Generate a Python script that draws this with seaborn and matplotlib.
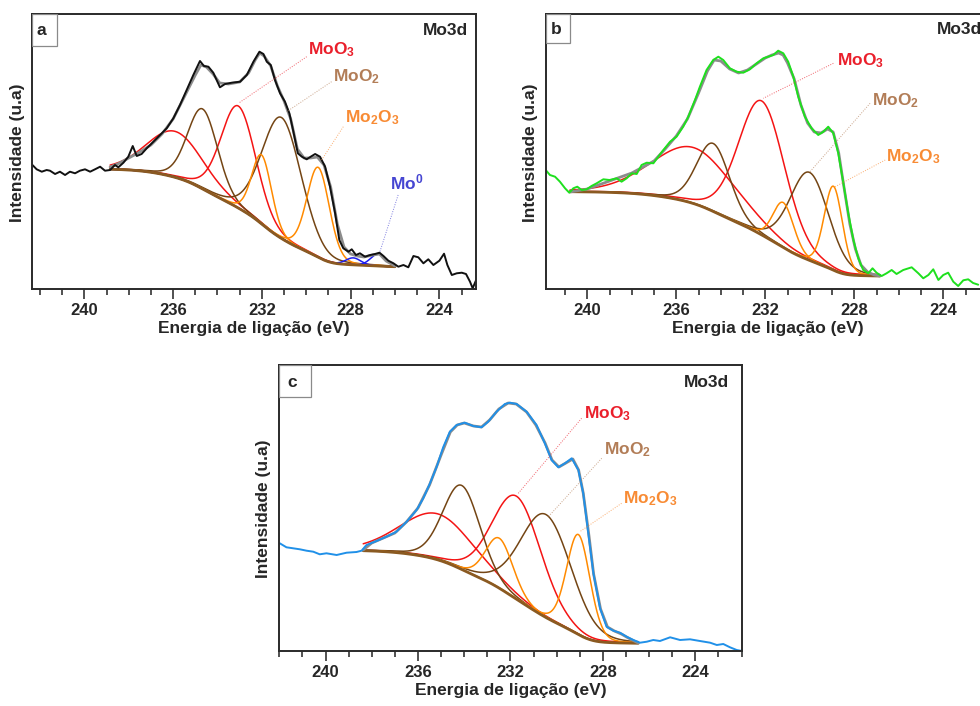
import numpy as np
import matplotlib
matplotlib.use("Agg")
import matplotlib.pyplot as plt
from matplotlib.patches import Rectangle
from matplotlib.ticker import MultipleLocator
import seaborn as sns

# ---------------------------------------------------------------- data
# (a) measured Mo3d spectrum
a_energy = [242.34, 242.15, 241.92, 241.70, 241.55, 241.32, 241.10, 240.87, 240.65, 240.42,
            240.20, 239.97, 239.74, 239.52, 239.29, 239.07, 238.84, 238.62, 238.47, 238.24,
            238.02, 237.82, 237.64, 237.42, 237.19, 236.89, 236.59, 236.29, 235.99, 235.69,
            235.39, 235.09, 234.79, 234.61, 234.41, 234.19, 233.89, 233.66, 233.36, 232.98,
            232.68, 232.38, 232.11, 231.93, 231.78, 231.60, 231.41, 231.18, 230.96, 230.76,
            230.58, 230.38, 230.20, 229.98, 229.80, 229.60, 229.38, 229.15, 228.93, 228.70,
            228.51, 228.33, 228.10, 227.95, 227.76, 227.58, 227.35, 227.12, 226.90, 226.70,
            226.52, 226.30, 226.07, 225.85, 225.62, 225.40, 225.17, 224.95, 224.72, 224.50,
            224.27, 224.00, 223.79, 223.64, 223.44, 223.22, 222.99, 222.80, 222.62, 222.50,
            222.35]
a_counts = [124, 119.7, 117.3, 119, 118.3, 115, 117.3, 114, 117.3, 115.7,
            118.3, 119.7, 117.3, 119.7, 122.3, 118.3, 119, 124, 121.7, 126.3,
            132.3, 143, 133, 135, 140.7, 147.3, 154, 160.7, 170.7, 184,
            199, 214, 228, 223, 222.3, 216.3, 201.7, 205, 206.3, 207.3,
            214, 227.3, 237.3, 235, 227.3, 224, 209, 195.7, 187.3, 175.7,
            157.3, 135.7, 132.3, 129.7, 132.3, 135, 132.3, 122.3, 102.3, 75.7,
            49, 40.7, 37.3, 39.7, 34, 35.7, 32.3, 34, 35, 36.3,
            33, 28.3, 25.7, 22.3, 24, 21.7, 33, 31.7, 25.7, 29.7,
            24, 28.3, 35.3, 24, 14, 15.7, 16.3, 15, 7.3, 0.7,
            8.7]
# (a) fitted envelope
a_fit_energy = [238.84, 238.5, 238.0, 237.5, 237.0, 236.5, 236.0, 235.5, 235.0, 234.75,
                234.5, 234.2, 233.9, 233.5, 233.0, 232.6, 232.3, 232.1, 231.9, 231.6,
                231.3, 231.0, 230.7, 230.4, 230.1, 229.8, 229.5, 229.2, 228.9, 228.6,
                228.3, 228.0, 227.7, 227.4, 227.0, 226.7, 226.4, 226.0]
a_fit_counts = [122, 125, 131, 137, 144, 155, 170, 192, 214, 224,
                222, 215, 206, 205, 207, 216, 229, 236, 233, 223,
                203, 188, 170, 140, 131, 131, 132, 124, 102, 65,
                42, 35, 33, 32, 34, 35, 28, 23]
# (a) background end points (binding energy) and levels
a_bg_energy = [238.84, 226.0]
a_bg_level = [119.7, 22.3]
# (a) fitted doublets: centre (eV), height, FWHM (eV)
a_moo3_center, a_moo3_height, a_moo3_fwhm = [235.91, 233.06], [46, 102], [3.0, 1.85]
a_moo2_center, a_moo2_height, a_moo2_fwhm = [234.67, 231.11], [80, 121], [1.6, 2.1]
a_mo2o3_center, a_mo2o3_height, a_mo2o3_fwhm = [232.01, 229.46], [69, 90], [1.05, 1.2]
a_mo0_center, a_mo0_height, a_mo0_fwhm = [227.88, 226.76], [7, 12], [0.8, 0.8]

# (b) measured Mo3d spectrum
b_energy = [241.87, 241.68, 241.45, 241.23, 241.00, 240.81, 240.63, 240.45, 240.25, 240.03,
            239.81, 239.58, 239.28, 239.00, 238.68, 238.46, 238.23, 238.00, 237.78, 237.56,
            237.33, 237.03, 236.81, 236.58, 236.28, 235.99, 235.69, 235.46, 235.16, 234.94,
            234.64, 234.34, 234.11, 233.89, 233.59, 233.29, 232.99, 232.69, 232.39, 232.09,
            231.87, 231.64, 231.42, 231.19, 230.97, 230.74, 230.52, 230.22, 229.92, 229.62,
            229.39, 229.17, 228.94, 228.72, 228.49, 228.27, 228.04, 227.82, 227.60, 227.37,
            227.18, 227.00, 226.77, 226.55, 226.32, 226.10, 225.80, 225.42, 225.12, 224.90,
            224.67, 224.45, 224.22, 224.00, 223.78, 223.55, 223.33, 223.10, 222.88, 222.66,
            222.43]
b_counts = [119, 114, 112.3, 107.3, 100.7, 96.3, 100.7, 102.3, 99, 99.7,
            103, 105.7, 109.7, 109, 110.7, 107.3, 110.7, 115.7, 115, 124,
            126.3, 125.7, 132.3, 139, 147.3, 152.3, 162.3, 172.3, 189, 202.3,
            219, 229, 232.3, 229, 220.7, 217.3, 216.3, 219.7, 225.7, 230.7,
            232.3, 234, 238.3, 235.7, 227.3, 212.3, 192.3, 172.3, 160.7, 154,
            157.3, 162.3, 155.7, 135.7, 105.7, 75.7, 49, 30.7, 19, 15.7,
            20.7, 16.3, 13, 15.7, 19, 15, 19, 21.7, 15.7, 10.7,
            14, 19.7, 9, 14, 16.3, 7.3, 3, 8.7, 9.7, 6,
            4.3]
b_fit_energy = [240.78, 240.0, 239.5, 239.0, 238.5, 238.0, 237.5, 237.0, 236.5, 236.0,
                235.5, 235.0, 234.6, 234.3, 234.0, 233.6, 233.2, 232.8, 232.4, 232.0,
                231.7, 231.4, 231.2, 231.0, 230.7, 230.4, 230.1, 229.8, 229.5, 229.2,
                228.95, 228.7, 228.45, 228.2, 227.95, 227.7, 227.4, 227.1, 226.85]
b_fit_counts = [97, 100, 104, 108, 112, 116, 122, 128, 140, 153,
                170, 196, 218, 229, 228, 220, 216, 219, 225, 231,
                234, 236, 234, 226, 210, 184, 166, 157, 156, 160,
                157, 136, 100, 65, 40, 24, 17, 14, 13]
b_bg_energy = [240.78, 226.85]
b_bg_level = [97.3, 13]
b_moo3_center, b_moo3_height, b_moo3_fwhm = [235.2, 232.16], [56, 134], [4.4, 2.45]
b_moo2_center, b_moo2_height, b_moo2_fwhm = [234.34, 230.02], [68, 88], [1.75, 2.05]
b_mo2o3_center, b_mo2o3_height, b_mo2o3_fwhm = [231.19, 228.94], [45, 84], [1.1, 0.97]

# (c) measured Mo3d spectrum
c_energy = [241.98, 241.69, 241.40, 241.11, 240.82, 240.53, 240.25, 239.96, 239.52, 239.09,
            238.66, 238.44, 238.23, 237.79, 237.36, 236.93, 236.49, 236.06, 235.77, 235.48,
            235.19, 234.91, 234.62, 234.33, 233.97, 233.61, 233.25, 232.96, 232.60, 232.24,
            232.02, 231.73, 231.30, 230.87, 230.51, 230.22, 229.93, 229.64, 229.35, 229.06,
            228.85, 228.63, 228.41, 228.12, 227.84, 227.55, 227.26, 226.97, 226.68, 226.39,
            226.10, 225.82, 225.53, 225.09, 224.66, 224.23, 223.80, 223.36, 223.07, 222.79,
            222.50, 222.21, 221.98]
c_counts = [107.7, 103.7, 102.7, 101.7, 100.3, 99.3, 96.7, 97.7, 96, 98.3,
            99, 100.3, 106, 110, 114.3, 119.3, 129.3, 141, 152.7, 167.7,
            184.3, 203.7, 219.3, 226, 228.3, 225, 223.7, 229.3, 239.3, 247,
            248.3, 247, 239.3, 226, 207.7, 191, 183.7, 187.7, 192.7, 181,
            157.7, 117.7, 77.7, 42.7, 24.3, 20.3, 18.3, 14.3, 11, 8.3,
            9.3, 11, 10, 13.7, 11, 11.7, 10, 8.3, 6, 7,
            3.7, 1, 0]
c_fit_energy = [238.37, 238.0, 237.5, 237.0, 236.5, 236.0, 235.5, 235.0, 234.6, 234.3,
                234.0, 233.6, 233.25, 232.9, 232.5, 232.1, 231.75, 231.3, 230.9, 230.5,
                230.2, 229.9, 229.6, 229.3, 229.05, 228.85, 228.6, 228.4, 228.1, 227.8,
                227.5, 227.2, 226.9, 226.47]
c_fit_counts = [101, 108, 113, 118, 129, 143, 166, 196, 219, 226,
                228, 225, 224, 231, 242, 248, 247, 239, 226, 208,
                191, 184, 188, 192, 181, 158, 115, 77, 42, 24,
                20, 17, 13, 8]
c_bg_energy = [238.37, 226.47]
c_bg_level = [100.3, 7.7]
c_moo3_center, c_moo3_height, c_moo3_fwhm = [235.12, 231.73], [46, 103], [3.8, 2.5]
c_moo2_center, c_moo2_height, c_moo2_fwhm = [234.11, 230.46], [84, 103], [1.9, 2.6]
c_mo2o3_center, c_mo2o3_height, c_mo2o3_fwhm = [232.48, 229.06], [50, 100], [1.4, 1.2]

# ---------------------------------------------------------------- style
sns.set_theme(style="white")
plt.rcParams["font.family"] = ["Liberation Sans", "DejaVu Sans"]
plt.rcParams["font.weight"] = "bold"
plt.rcParams["mathtext.fontset"] = "custom"
plt.rcParams["mathtext.rm"] = "Liberation Sans:bold"
plt.rcParams["mathtext.it"] = "Liberation Sans:bold"
plt.rcParams["mathtext.bf"] = "Liberation Sans:bold"

LINE = {"MoO3": "#f41414", "MoO2": "#744514", "Mo2O3": "#ff8a00", "Mo0": "#1c1cf0"}
TEXT = {"MoO3": "#ea1f2b", "MoO2": "#b27d57", "Mo2O3": "#f88b34", "Mo0": "#4646d2"}
NAME = {"MoO3": "MoO$_3$", "MoO2": "MoO$_2$", "Mo2O3": "Mo$_2$O$_3$", "Mo0": "Mo$^0$"}
BG_COLOR = "#8a5a22"
FIT_COLOR = "#8c8c8c"


def pseudo_voigt(e, center, height, fwhm, mix=0.15):
    x = (e - center) / (fwhm / 2.0)
    return height * ((1 - mix) * np.exp(-np.log(2) * x ** 2) + mix / (1 + x ** 2))


def shirley(peak_sum, high, low):
    # grid runs from high to low binding energy; the step follows the peak area
    # accumulated from the low-energy end
    area = np.cumsum(peak_sum[::-1])[::-1]
    return low + (high - low) * area / area[0]


def draw_panel(ax, letter, xlim, ylim, energy, counts, data_color, fit_e, fit_c,
               bg_e, bg_level, species, labels, box, letter_xy, mo3d_x):
    grid = np.linspace(bg_e[0], bg_e[1], 500)
    peaks = []
    for key, (centers, heights, widths) in species.items():
        for c, h, w in zip(centers, heights, widths):
            peaks.append((key, pseudo_voigt(grid, c, h, w)))
    total = np.sum([p for _, p in peaks], axis=0)
    bg = shirley(total, bg_level[0], bg_level[1])

    for key, p in peaks:
        sns.lineplot(x=grid, y=bg + p, ax=ax, color=LINE[key], linewidth=1.1,
                     sort=False, estimator=None, legend=False)
    sns.lineplot(x=grid, y=bg, ax=ax, color=BG_COLOR, linewidth=2.0,
                 sort=False, estimator=None, legend=False)
    sns.lineplot(x=fit_e, y=fit_c, ax=ax, color=FIT_COLOR, linewidth=2.0,
                 sort=False, estimator=None, legend=False)
    sns.lineplot(x=energy, y=counts, ax=ax, color=data_color, linewidth=1.4,
                 sort=False, estimator=None, legend=False)

    for key, (tx, ty, lx0, ly0, lx1, ly1) in labels.items():
        ax.plot([lx0, lx1], [ly0, ly1], linestyle=(0, (1, 1.5)), linewidth=0.7,
                color=TEXT[key], alpha=0.7)
        ax.text(tx, ty, NAME[key], color=TEXT[key], fontsize=12.5,
                fontweight="bold", ha="left", va="center")

    ax.set_xlim(*xlim)
    ax.set_ylim(*ylim)
    ax.set_yticks([])
    ax.xaxis.set_major_locator(MultipleLocator(4))
    ax.xaxis.set_minor_locator(MultipleLocator(1))
    ax.tick_params(axis="x", which="major", direction="out", length=7, width=1.1,
                   labelsize=12, pad=3, bottom=True, color="#222222")
    ax.tick_params(axis="x", which="minor", direction="out", length=4.3, width=1.1,
                   bottom=True, color="#222222")
    for side in ["left", "right", "top", "bottom"]:
        ax.spines[side].set_visible(True)
        ax.spines[side].set_color("#2a2a2a")
        ax.spines[side].set_linewidth(1.4)

    ax.set_xlabel("Energia de ligação (eV)", fontsize=12.5, fontweight="bold", labelpad=2)
    ax.set_ylabel("Intensidade (u.a)", fontsize=12.5, fontweight="bold")

    ax.add_patch(Rectangle((0, 1 - box[1]), box[0], box[1], transform=ax.transAxes,
                           fill=False, edgecolor="#8a8a8a", linewidth=0.9, zorder=5))
    ax.text(letter_xy[0], letter_xy[1], letter, transform=ax.transAxes, fontsize=12.5,
            fontweight="bold", ha="center", va="center")
    ax.text(mo3d_x, letter_xy[1], "Mo3d", transform=ax.transAxes, fontsize=12.5,
            fontweight="bold", ha="right", va="center")


fig = plt.figure(figsize=(9.8, 7.06), dpi=100)
W, H = 980.0, 706.0

ax_a = fig.add_axes([32 / W, (H - 289) / H, 444 / W, 275 / H])
ax_b = fig.add_axes([545.7 / W, (H - 289) / H, 444.3 / W, 275 / H])
ax_c = fig.add_axes([279.3 / W, (H - 651) / H, 462.7 / W, 286 / H])

draw_panel(
    ax_a, "a", (242.36, 222.35), (0, 275), a_energy, a_counts, "#111111",
    a_fit_energy, a_fit_counts, a_bg_energy, a_bg_level,
    {"MoO3": (a_moo3_center, a_moo3_height, a_moo3_fwhm),
     "MoO2": (a_moo2_center, a_moo2_height, a_moo2_fwhm),
     "Mo2O3": (a_mo2o3_center, a_mo2o3_height, a_mo2o3_fwhm),
     "Mo0": (a_mo0_center, a_mo0_height, a_mo0_fwhm)},
    {"MoO3": (229.92, 239, 229.98, 232.3, 233.02, 186.3),
     "MoO2": (228.8, 212, 228.86, 207.3, 230.88, 177.3),
     "Mo2O3": (228.26, 171, 228.33, 162.3, 229.31, 129),
     "Mo0": (226.23, 107, 225.86, 94, 226.68, 37.3)},
    (0.056, 0.116), (0.022, 0.939), 0.983)

draw_panel(
    ax_b, "b", (241.87, 221.9), (0, 275), b_energy, b_counts, "#1ee01e",
    b_fit_energy, b_fit_counts, b_bg_energy, b_bg_level,
    {"MoO3": (b_moo3_center, b_moo3_height, b_moo3_fwhm),
     "MoO2": (b_moo2_center, b_moo2_height, b_moo2_fwhm),
     "Mo2O3": (b_mo2o3_center, b_mo2o3_height, b_mo2o3_fwhm)},
    {"MoO3": (228.79, 228, 228.94, 225.7, 232.09, 190.7),
     "MoO2": (227.22, 188.3, 227.29, 185.7, 229.99, 117.3),
     "Mo2O3": (226.58, 132.3, 226.61, 129, 228.86, 102.3)},
    (0.055, 0.107), (0.023, 0.944), 0.983)

draw_panel(
    ax_c, "c", (242.0, 221.98), (0, 286), c_energy, c_counts, "#2090e8",
    c_fit_energy, c_fit_counts, c_bg_energy, c_bg_level,
    {"MoO3": (c_moo3_center, c_moo3_height, c_moo3_fwhm),
     "MoO2": (c_moo2_center, c_moo2_height, c_moo2_fwhm),
     "Mo2O3": (c_mo2o3_center, c_mo2o3_height, c_mo2o3_fwhm)},
    {"MoO3": (228.82, 237.7, 228.92, 232.7, 231.66, 157.7),
     "MoO2": (227.94, 201, 228.05, 192.7, 230.36, 134.3),
     "Mo2O3": (227.12, 152.7, 227.19, 147.7, 229.0, 119.3)},
    (0.068, 0.113), (0.027, 0.938), 0.971)

ax_a.yaxis.set_label_coords(-0.016, 0.496)
ax_b.yaxis.set_label_coords(-0.017, 0.496)
ax_c.yaxis.set_label_coords(-0.019, 0.496)

fig.savefig("out.png", dpi=100)
